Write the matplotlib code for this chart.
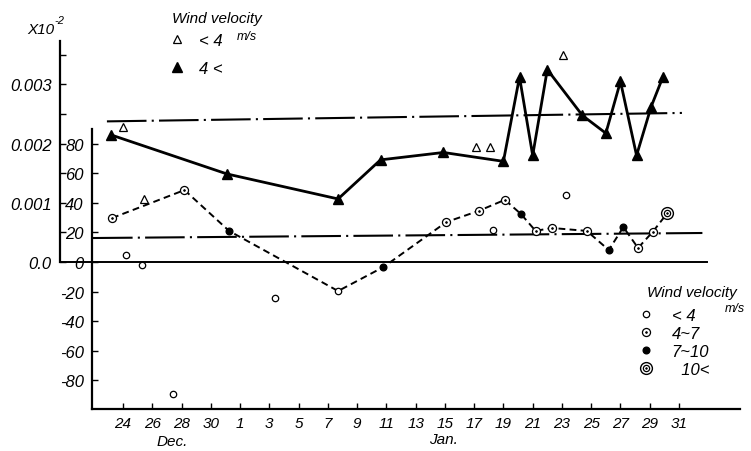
import matplotlib
matplotlib.use('Agg')
import matplotlib.pyplot as plt
from matplotlib.lines import Line2D

plt.rcParams['font.family'] = ['Liberation Sans', 'DejaVu Sans']
plt.rcParams['font.style'] = 'italic'

# x is counted in December days: Jan d -> 31 + d
tick_days = [24, 26, 28, 30] + list(range(32, 63, 2))
tick_labels = ['24', '26', '28', '30'] + [str(d - 31) for d in range(32, 63, 2)]

# upper series, wind 4< (filled triangles, joined)
tri_hi_day = [23.2, 31.1, 38.7, 41.6, 45.9, 50.0, 51.1, 52.0, 53.0, 55.4, 57.0, 58.0, 59.1, 60.1, 60.9]
tri_hi_val = [85.8, 59.5, 42.6, 69.0, 74.0, 68.0, 125.0, 72.0, 130.0, 99.0, 87.0, 122.0, 72.0, 105.0, 125.0]
# upper series, wind <4 (open triangles)
tri_lo_day = [24.0, 25.4, 48.1, 49.1, 54.1]
tri_lo_val = [91.0, 42.6, 78.0, 78.0, 140.0]

# lower series (dashed) with wind class of each point
circ_day = [23.25, 28.2, 31.25, 38.7, 41.8, 46.1, 48.3, 50.1, 51.2, 52.2, 53.3, 55.7, 57.2, 58.2, 59.2, 60.2, 61.2]
circ_val = [29.7, 48.6, 21.0, -19.6, -3.4, 27.0, 34.5, 42.0, 32.4, 21.0, 23.0, 21.0, 8.1, 23.6, 9.5, 20.3, 33.0]
circ_kind = ['4-7', '4-7', '7-10', 'lt4', '7-10', '4-7', '4-7', '4-7', '7-10', '4-7', '4-7', '4-7',
             '7-10', '7-10', '4-7', '4-7', 'gt10']
# separate points, wind <4
stray_day = [24.2, 25.3, 27.4, 34.4, 49.3, 54.3]
stray_val = [4.7, -2.0, -89.0, -24.3, 21.6, 45.3]

# mean lines (dash-dot)
mean_hi_day = [22.9, 62.2]
mean_hi_val = [95.0, 100.7]
mean_lo_day = [21.95, 63.6]
mean_lo_val = [16.2, 19.6]

SCALE = 40000.0  # inner units per outer unit

styles = {
    'lt4': [dict(marker='o', ms=4.6, mfc='white', mec='k', mew=0.9)],
    '4-7': [dict(marker='o', ms=5.8, mfc='white', mec='k', mew=0.9),
            dict(marker='o', ms=1.3, mfc='k', mec='k', mew=0.5)],
    '7-10': [dict(marker='o', ms=4.8, mfc='k', mec='k')],
    'gt10': [dict(marker='o', ms=8.5, mfc='white', mec='k', mew=1.0),
             dict(marker='o', ms=4.5, mfc='white', mec='k', mew=0.9),
             dict(marker='o', ms=1.2, mfc='k', mec='k', mew=0.5)],
}
tri_open = dict(marker='^', ms=5.5, mfc='white', mec='k', mew=0.9)
tri_full = dict(marker='^', ms=6.5, mfc='k', mec='k')

W, H = 751, 452
fig = plt.figure(figsize=(W / 100, H / 100), dpi=100)
ax = fig.add_axes([92 / W, (H - 410) / H, 648 / W, 368 / H])
ymin, ymax = -99.3, 149.3
ax.set_xlim(21.88, 66.17)
ax.set_ylim(ymin, ymax)
for s in ('top', 'right'):
    ax.spines[s].set_visible(False)
ax.spines['left'].set_bounds(ymin, 89.9)
ax.spines['left'].set_linewidth(1.6)
ax.spines['bottom'].set_linewidth(1.6)
ax.set_yticks(range(-80, 81, 20))
ax.set_yticklabels([str(v) for v in range(-80, 81, 20)])
ax.set_xticks(tick_days)
ax.set_xticklabels(tick_labels)
ax.tick_params(direction='in', length=4, width=1, labelsize=12, pad=6)
ax.tick_params(axis='x', labelsize=11, pad=5)

# outer axis
ax2 = fig.add_axes([60 / W, (H - 410) / H, 0.001, 368 / H])
ax2.set_ylim(ymin / SCALE, ymax / SCALE)
ax2.patch.set_visible(False)
for s in ('top', 'right', 'bottom'):
    ax2.spines[s].set_visible(False)
ax2.spines['left'].set_bounds(0, 0.00373)
ax2.spines['left'].set_linewidth(1.6)
ax2.set_xticks([])
ax2.set_yticks([0, 0.001, 0.002, 0.003])
ax2.set_yticklabels(['0.0', '0.001', '0.002', '0.003'])
ax2.set_yticks([0.0005, 0.0015, 0.0025, 0.0035], minor=True)
ax2.tick_params(direction='in', length=4, width=1, labelsize=12, pad=6)
ax2.tick_params(which='minor', direction='in', length=4, width=1)

# zero line and mean lines
ax.plot([19.7, 63.9], [0, 0], color='k', lw=1.4, clip_on=False)
dashdot = (0, (19, 2.5, 1, 2.5))
ax.plot(mean_hi_day, mean_hi_val, color='k', lw=1.5, ls=dashdot)
ax.plot(mean_lo_day, mean_lo_val, color='k', lw=1.5, ls=dashdot)

# upper series
ax.plot(tri_hi_day, tri_hi_val, color='k', lw=2.0, zorder=3)
ax.plot(tri_hi_day, tri_hi_val, ls='none', zorder=4, **tri_full)
ax.plot(tri_lo_day, tri_lo_val, ls='none', zorder=4, **tri_open)

# lower series
ax.plot(circ_day, circ_val, color='k', lw=1.4, ls=(0, (3.5, 2.2)), zorder=3)
for kind in styles:
    xs = [d for d, k in zip(circ_day, circ_kind) if k == kind]
    ys = [v for v, k in zip(circ_val, circ_kind) if k == kind]
    if kind == 'lt4':
        xs += stray_day
        ys += stray_val
    for st in styles[kind]:
        ax.plot(xs, ys, ls='none', zorder=5, **st)

# legends
def handle(parts):
    return tuple(Line2D([], [], ls='none', **p) for p in parts)

leg1 = fig.legend([handle([tri_open]), handle([tri_full])], ['< 4', '4 <'],
                  loc='upper left', bbox_to_anchor=(171 / W, 1 - 34 / H),
                  frameon=False, fontsize=12, borderpad=0, borderaxespad=0,
                  handlelength=0.7, handletextpad=1.0, labelspacing=0.77)
fig.text(172 / W, 1 - 19 / H, 'Wind velocity', fontsize=11, va='center')
fig.text(237 / W, 1 - 37 / H, 'm/s', fontsize=9, va='center')

leg2 = fig.legend([handle(styles['lt4']), handle(styles['4-7']), handle(styles['7-10']),
                   handle(styles['gt10'])],
                  ['< 4', '4~7', '7~10', '  10<'],
                  loc='upper left', bbox_to_anchor=(640 / W, 1 - 309 / H),
                  frameon=False, fontsize=12, borderpad=0, borderaxespad=0,
                  handlelength=0.7, handletextpad=1.2, labelspacing=0.18)
fig.text(647 / W, 1 - 293 / H, 'Wind velocity', fontsize=11, va='center')
fig.text(725 / W, 1 - 309 / H, 'm/s', fontsize=9, va='center')

# axis annotations
fig.text(27 / W, 1 - 30 / H, 'X10', fontsize=11, va='center')
fig.text(54 / W, 1 - 21 / H, '-2', fontsize=8, va='center')
fig.text(172 / W, 1 - 442 / H, 'Dec.', fontsize=11, va='center', ha='center')
fig.text(443 / W, 1 - 440 / H, 'Jan.', fontsize=11, va='center', ha='center')

fig.savefig('out.png', dpi=100)
